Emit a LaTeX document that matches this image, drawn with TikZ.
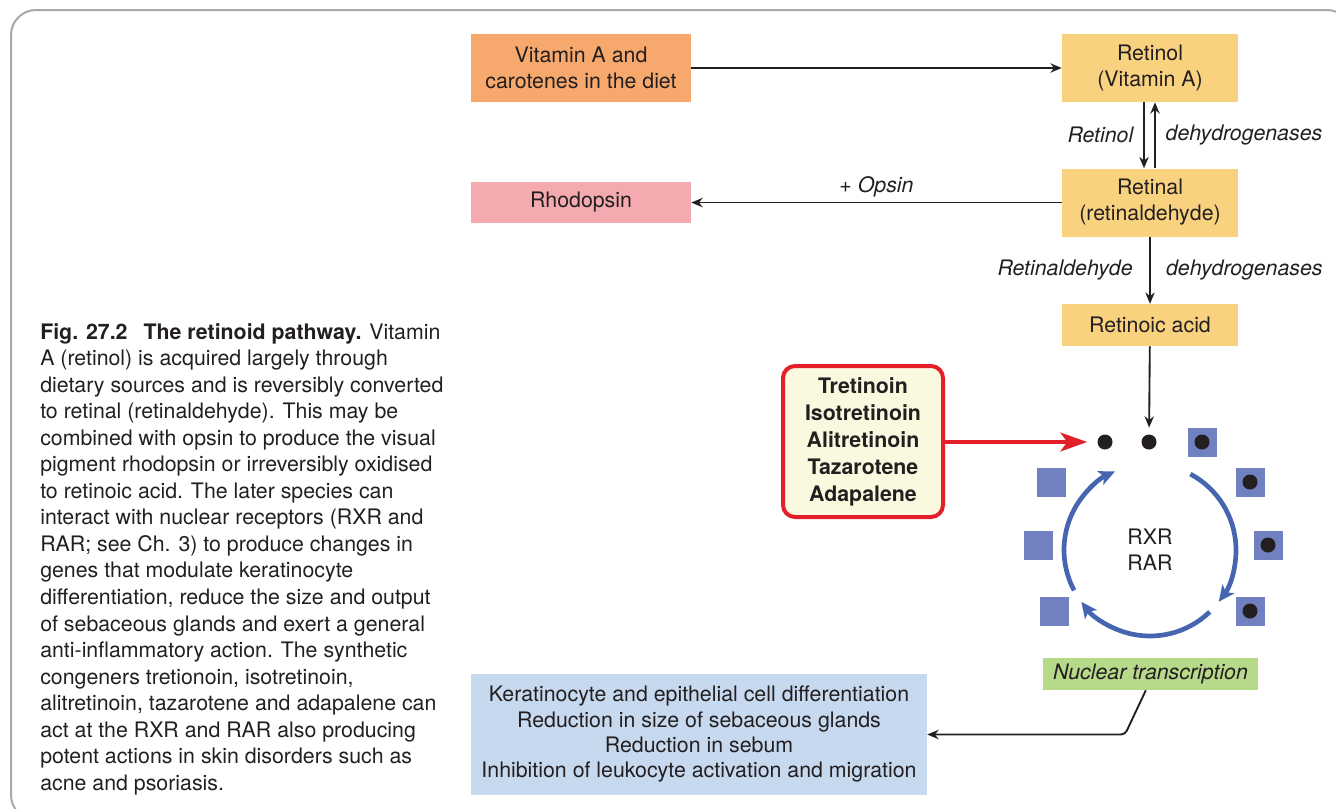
\documentclass[tikz,border=0pt]{standalone}
\usepackage{fontspec}
\setmainfont{TeX Gyre Heros}
\usepackage{xcolor}
\usetikzlibrary{arrows.meta, positioning, calc}

\definecolor{ink}{HTML}{231F20}
\definecolor{dietorange}{HTML}{F7A86D}
\definecolor{retyellow}{HTML}{F9D27F}
\definecolor{rhodopink}{HTML}{F5AAB0}
\definecolor{drugcream}{HTML}{FAF9DF}
\definecolor{drugred}{HTML}{E3202A}
\definecolor{cycleblue}{HTML}{4565B0}
\definecolor{recblue}{HTML}{7180C0}
\definecolor{nucgreen}{HTML}{B6D98A}
\definecolor{effblue}{HTML}{C6D9EE}
\definecolor{framegray}{HTML}{A8A8A8}

\tikzset{
    stage/.style={
        rectangle,
        inner sep=0pt,
        align=center,
        text=ink,
        font=\fontsize{16}{19.5}\selectfont
    },
    druglist/.style={
        rectangle,
        draw=drugred,
        line width=3pt,
        rounded corners=9pt,
        fill=drugcream,
        minimum width=120pt,
        minimum height=113.25pt,
        align=center,
        text=ink,
        font=\fontsize{16}{20.25}\selectfont\bfseries
    },
    enzyme/.style={
        text=ink,
        font=\fontsize{16}{19.5}\selectfont\itshape
    },
    wire/.style={
        draw=ink,
        line width=1.4pt,
        -{Stealth[length=8.5pt,width=7pt]}
    },
    drugwire/.style={
        draw=drugred,
        line width=3pt,
        -{Stealth[length=20pt,width=14pt,inset=5pt]}
    },
    cyclewire/.style={
        draw=cycleblue,
        line width=3.5pt,
        -{Stealth[length=12pt,width=11pt,inset=3pt]}
    },
    receptor/.style={
        rectangle,
        fill=recblue,
        minimum size=21.75pt,
        inner sep=0pt
    },
    ligand/.style={
        circle,
        fill=ink,
        minimum size=11.25pt,
        inner sep=0pt
    },
    frame/.style={
        draw=framegray,
        line width=1.5pt,
        rounded corners=18.75pt
    }
}

\begin{document}
\begin{tikzpicture}[x=0.75pt, y=-0.75pt]

\useasboundingbox (0,0) rectangle (1336,808);

% Frame
\begin{scope}
\clip (0,0) rectangle (1336,808);
\draw[frame] (11,10) rectangle (1352,820);
\end{scope}

% Caption
\node[anchor=north west, inner sep=0pt, align=left, text=ink,
      font=\fontsize{16}{19.9}\selectfont] (caption) at (40,323)
  {\textbf{Fig. 27.2\hspace{0.75em}The retinoid pathway.} Vitamin\\
   A (retinol) is acquired largely through\\
   dietary sources and is reversibly converted\\
   to retinal (retinaldehyde). This may be\\
   combined with opsin to produce the visual\\
   pigment rhodopsin or irreversibly oxidised\\
   to retinoic acid. The later species can\\
   interact with nuclear receptors (RXR and\\
   RAR; see Ch. 3) to produce changes in\\
   genes that modulate keratinocyte\\
   differentiation, reduce the size and output\\
   of sebaceous glands and exert a general\\
   anti-inflammatory action. The synthetic\\
   congeners tretionoin, isotretinoin,\\
   alitretinoin, tazarotene and adapalene can\\
   act at the RXR and RAR also producing\\
   potent actions in skin disorders such as\\
   acne and psoriasis.};

% Main column
\node[stage, fill=retyellow, minimum width=132pt, minimum height=51pt] (retinol) at (1150,68) {Retinol\\(Vitamin A)};
\node[stage, fill=retyellow, minimum width=132pt, minimum height=51pt, below=49.5pt of retinol] (retinal) {Retinal\\(retinaldehyde)};
\node[stage, fill=retyellow, minimum width=132pt, minimum height=31.5pt, below=50.25pt of retinal] (retacid) {Retinoic acid};

% Left column
\node[stage, fill=dietorange, minimum width=165pt, minimum height=51pt] (diet) at (581,68) {Vitamin A and\\carotenes in the diet};
\node[stage, fill=rhodopink, minimum width=165pt, minimum height=30.75pt] (rhodopsin) at (diet |- retinal) {Rhodopsin};

\draw[wire] (diet) -- (retinol);
\draw[wire] ([xshift=-4.5pt]retinol.south) -- node[enzyme, left=4pt] {Retinol} ([xshift=-4.5pt]retinal.north);
\draw[wire] ([xshift=3.75pt]retinal.north) -- node[enzyme, right=4pt] {dehydrogenases} ([xshift=3.75pt]retinol.south);
\draw[wire] (retinal) -- node[enzyme, above] {+ Opsin} (rhodopsin);
\draw[wire] (retinal) -- node[enzyme, left=9pt] {Retinaldehyde} node[enzyme, right=8pt] {dehydrogenases} (retacid);

% Receptors
\node[stage] (rxr) at (1150,550) {RXR\\RAR};
\node[ligand] (lig-x) at (1105,442) {};
\node[ligand] (lig-y) at (1149,442) {};
\foreach \px/\py/\nm in {1202/442/a, 1250/482/b, 1268/545/c, 1250/611/d}{
  \node[receptor] (rec-\nm) at (\px,\py) {};
  \node[ligand] (lig-\nm) at (rec-\nm) {};
}
\foreach \px/\py/\nm in {1051/482/e, 1038/545/f, 1054/611/g}
  \node[receptor] (rec-\nm) at (\px,\py) {};

\draw[cyclewire] ([shift={(-208:86)}]rxr.center) arc[start angle=-208, end angle=-114, radius=86];
\draw[cyclewire] ([shift={(-62:86)}]rxr.center) arc[start angle=-62, end angle=37, radius=86];
\draw[cyclewire] ([shift={(46:86)}]rxr.center) arc[start angle=46, end angle=143, radius=86];

\draw[wire, shorten >=5pt] (retacid) -- (lig-y);

% Synthetic retinoids
\node[druglist] (drugs) at (863,441.5) {Tretinoin\\Isotretinoin\\Alitretinoin\\Tazarotene\\Adapalene};
\draw[drugwire, shorten >=7.5pt] (drugs.east |- lig-x) -- (lig-x);

% Outcome
\node[stage, fill=nucgreen, minimum width=161.25pt, minimum height=24pt, font=\fontsize{16}{19.5}\selectfont\itshape] (nuc) at (1150.5,674) {Nuclear transcription};
\node[stage, fill=effblue, minimum width=342pt, minimum height=90.75pt, font=\fontsize{16}{19}\selectfont] (effects) at (699,734.5)
  {Keratinocyte and epithelial cell differentiation\\Reduction in size of sebaceous glands\\Reduction in sebum\\Inhibition of leukocyte activation and migration};
\coordinate (bend) at (1125,734.5);
\draw[wire, rounded corners=3pt] ([xshift=-3.5pt]nuc.south) -- (bend) -- (effects);

\end{tikzpicture}
\end{document}
